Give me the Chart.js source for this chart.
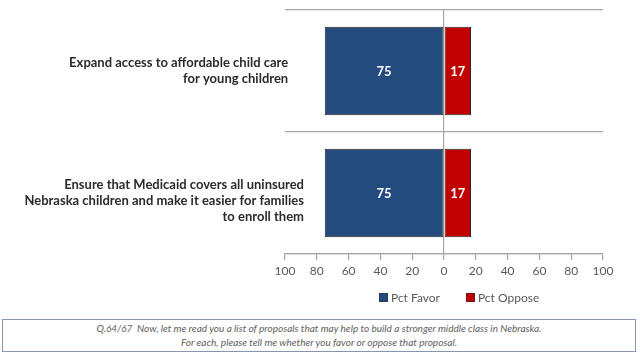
<!DOCTYPE html>
<html>
<head>
<meta charset="utf-8">
<script src="https://cdn.jsdelivr.net/npm/chart.js@4/dist/chart.umd.min.js"></script>
<style>
  html, body { margin: 0; padding: 0; background: #fff; }
  #wrap { position: relative; width: 640px; height: 354px; overflow: hidden; }
  #c { position: absolute; left: 0; top: 0; }
  #note {
    position: absolute; left: 2px; top: 319px; width: 634px; height: 33px;
    border: 1px solid #8796ae; box-sizing: border-box;
    font-family: Lato, "Open Sans", sans-serif; font-style: italic; font-size: 10px;
    color: #606060; text-align: center; line-height: 14px; padding-top: 1px;
  }
</style>
</head>
<body>
<div id="wrap">
  <canvas id="c" width="640" height="316"></canvas>
  <div id="note">Q.64/67&nbsp; Now, let me read you a list of proposals that may help to build a stronger middle class in Nebraska.<br>For each, please tell me whether you favor or oppose that proposal.</div>
</div>
<script>
const categories = [
  ["Expand access to affordable child care     ", "for young children     "],
  ["", "Ensure that Medicaid covers all uninsured", "Nebraska children and make it easier for families", "to enroll them"]
];
const seriesNames = ["Pct Favor", "Pct Oppose"];
const favor = [75, 75];
const oppose = [17, 17];
const tickLabels = [-100, -80, -60, -40, -20, 0, 20, 40, 60, 80, 100];

const BLUE = "#234b7e";
const RED = "#c00000";
const GRID = "#a6a6a6";

const noLabelClip = {
  id: "noLabelClip",
  afterLayout(chart) {
    const s = chart.scales.y;
    if (s) s._computeLabelArea = () => undefined;
  }
};

const valueLabels = {
  id: "valueLabels",
  afterDatasetsDraw(chart) {
    const ctx = chart.ctx;
    ctx.save();
    ctx.fillStyle = "#ffffff";
    ctx.font = "bold 13px Lato, 'Open Sans', sans-serif";
    ctx.textAlign = "center";
    ctx.textBaseline = "middle";
    chart.data.datasets.forEach((ds, di) => {
      const meta = chart.getDatasetMeta(di);
      meta.data.forEach((el, i) => {
        const p = el.getProps(["x", "y", "base"], true);
        const v = Math.abs(ds.data[i]);
        ctx.fillText(String(v), (p.x + p.base) / 2, p.y + 1);
      });
    });
    ctx.restore();
  }
};

const customLegend = {
  id: "customLegend",
  afterDraw(chart) {
    const ctx = chart.ctx;
    ctx.save();
    ctx.font = "12px Lato, 'Open Sans', sans-serif";
    ctx.textBaseline = "middle";
    ctx.textAlign = "left";
    const y = 297.5;
    const box = 9, gap = 3, spacing = 26;
    const items = chart.data.datasets.map(d => ({ label: d.label, color: d.backgroundColor }));
    let total = 0;
    items.forEach((it, i) => {
      total += box + gap + ctx.measureText(it.label).width + (i < items.length - 1 ? spacing : 0);
    });
    let x = Math.round(459.5 - total / 2);
    items.forEach(it => {
      ctx.fillStyle = it.color;
      ctx.fillRect(x, y - box / 2, box, box);
      ctx.strokeStyle = "#333";
      ctx.lineWidth = 0.6;
      ctx.strokeRect(x + 0.3, y - box / 2 + 0.3, box - 0.6, box - 0.6);
      ctx.fillStyle = "#595959";
      ctx.fillText(it.label, x + box + gap, y + 1);
      x += box + gap + ctx.measureText(it.label).width + spacing;
    });
    ctx.restore();
  }
};

new Chart(document.getElementById("c"), {
  type: "bar",
  data: {
    labels: categories,
    datasets: [
      { label: seriesNames[0], data: favor.map(v => -v), backgroundColor: BLUE, borderColor: "#2a2a2a", borderWidth: 1, borderSkipped: false },
      { label: seriesNames[1], data: oppose.slice(), backgroundColor: RED, borderColor: "#2a2a2a", borderWidth: 1, borderSkipped: false }
    ]
  },
  options: {
    indexAxis: "y",
    responsive: false,
    animation: false,
    layout: { padding: { left: 0, right: 37, top: 10, bottom: 0 } },
    datasets: { bar: { categoryPercentage: 0.725, barPercentage: 1.0 } },
    plugins: {
      legend: { display: false },
      tooltip: { enabled: false }
    },
    scales: {
      x: {
        stacked: true,
        min: -100,
        max: 100,
        afterBuildTicks(axis) { axis.ticks = tickLabels.map(v => ({ value: v })); },
        afterFit(axis) { axis.height = 316 - 254; axis.paddingLeft = 0; axis.paddingRight = 0; },
        ticks: {
          callback: v => String(Math.abs(v)),
          color: "#595959",
          font: { family: "Lato, 'Open Sans', sans-serif", size: 12 },
          padding: 4,
          maxRotation: 0
        },
        grid: {
          color: ctx => (ctx.tick && ctx.tick.value === 0) ? GRID : "rgba(0,0,0,0)",
          tickColor: GRID,
          tickLength: 6,
          lineWidth: 1.2
        },
        border: { display: true, color: GRID, width: 1.2 }
      },
      y: {
        stacked: true,
        afterFit(axis) { axis.width = 285; axis.paddingTop = 0; axis.paddingBottom = 0; },
        ticks: {
          color: "#2b2b2b",
          font: { family: "Lato, 'Open Sans', sans-serif", size: 13, weight: "bold", lineHeight: 1.23 },
          padding: -19
        },
        grid: {
          offset: true,
          color: GRID,
          lineWidth: 1.2,
          drawTicks: false
        },
        border: { display: false }
      }
    }
  },
  plugins: [noLabelClip, valueLabels, customLegend]
});
</script>
</body>
</html>
